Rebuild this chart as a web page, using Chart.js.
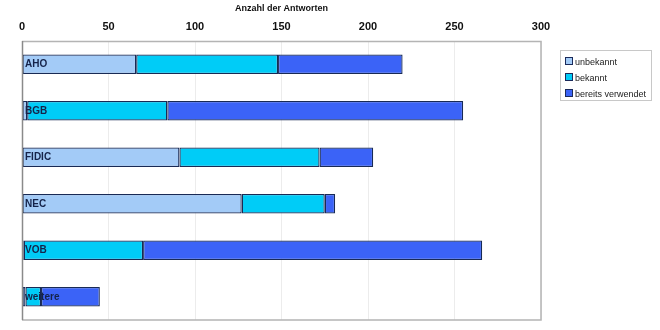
<!DOCTYPE html>
<html><head><meta charset="utf-8">
<script src="https://cdn.jsdelivr.net/npm/chart.js@4/dist/chart.umd.min.js"></script>
<style>
html,body{margin:0;padding:0;background:#fff;}
#wrap{position:relative;width:660px;height:330px;}
#legend{position:absolute;left:560px;top:50px;width:92px;height:51px;border:1px solid #c8c8c8;font-family:"Liberation Sans",Arial,sans-serif;font-size:9px;color:#222;padding:3px 0 0 4px;box-sizing:border-box;}
#legend div{height:16px;line-height:16px;white-space:nowrap;}
#legend span{display:inline-block;width:6px;height:6px;border:1px solid #1a2a5a;margin-right:2px;vertical-align:0px;}
</style></head><body>
<div id="wrap"><canvas id="c" width="660" height="330"></canvas>
<div id="legend"></div></div>
<script>
const categories = ["AHO","BGB","FIDIC","NEC","VOB","weitere"];
const unbekannt = [66, 3, 91, 127, 1, 2];
const bekannt = [82, 81, 81, 48, 69, 9];
const bereitsVerwendet = [72, 171, 31, 6, 196, 34];
const seriesNames = ["unbekannt","bekannt","bereits verwendet"];
const xTicks = [0,50,100,150,200,250,300];

const colors = ["#a3cbf7","#00ccf7","#3b63f7"];
const border = "#182a55";

const legend = document.getElementById('legend');
seriesNames.forEach((n,i)=>{
  const d=document.createElement('div');
  d.innerHTML='<span style="background:'+colors[i]+'"></span>'+n;
  legend.appendChild(d);
});

const boxPlugin = {
  id:'box',
  afterDraw(chart){
    const {ctx, chartArea:a} = chart;
    ctx.save();
    ctx.strokeStyle='#b4b4b4';
    ctx.lineWidth=1.5;
    ctx.beginPath();
    ctx.moveTo(a.left, a.top+0.5); ctx.lineTo(a.right, a.top+0.5);
    ctx.lineTo(a.right, a.bottom); ctx.lineTo(a.left, a.bottom);
    ctx.stroke();
    ctx.strokeStyle='#8a8a8a';
    ctx.beginPath(); ctx.moveTo(a.left+0.5,a.top); ctx.lineTo(a.left+0.5,a.bottom); ctx.stroke();
    ctx.restore();
  }
};

new Chart(document.getElementById('c'), {
  type:'bar',
  data:{
    labels:categories,
    datasets:[
      {label:seriesNames[0], data:unbekannt, backgroundColor:colors[0]},
      {label:seriesNames[1], data:bekannt, backgroundColor:colors[1]},
      {label:seriesNames[2], data:bereitsVerwendet, backgroundColor:colors[2]}
    ].map(d=>Object.assign(d,{borderColor:border,borderWidth:1.3,borderSkipped:false,barPercentage:0.42,categoryPercentage:1}))
  },
  options:{
    indexAxis:'y',
    responsive:false,
    animation:false,
    layout:{padding:{left:22,right:119,top:0,bottom:10}},
    plugins:{legend:{display:false},tooltip:{enabled:false}},
    scales:{
      x:{
        position:'top', stacked:true, min:0, max:300,
        afterBuildTicks(ax){ ax.ticks = xTicks.map(v=>({value:v})); },
        grid:{color:'#ececec',drawTicks:false},
        border:{display:false},
        ticks:{color:'#111',font:{family:'"Liberation Sans",Arial,sans-serif',size:11,weight:'bold'},padding:7},
        title:{display:true,text:'Anzahl der Antworten',color:'#111',font:{family:'"Liberation Sans",Arial,sans-serif',size:9,weight:'bold'},padding:{top:3,bottom:0}}
      },
      y:{
        stacked:true,
        afterFit(ax){ ax.width = 0; },
        grid:{display:false},
        border:{display:false},
        ticks:{mirror:true,padding:3,color:'#15234a',font:{family:'"Liberation Sans",Arial,sans-serif',size:10,weight:'bold'},z:5}
      }
    }
  },
  plugins:[boxPlugin]
});
</script>
</body></html>
